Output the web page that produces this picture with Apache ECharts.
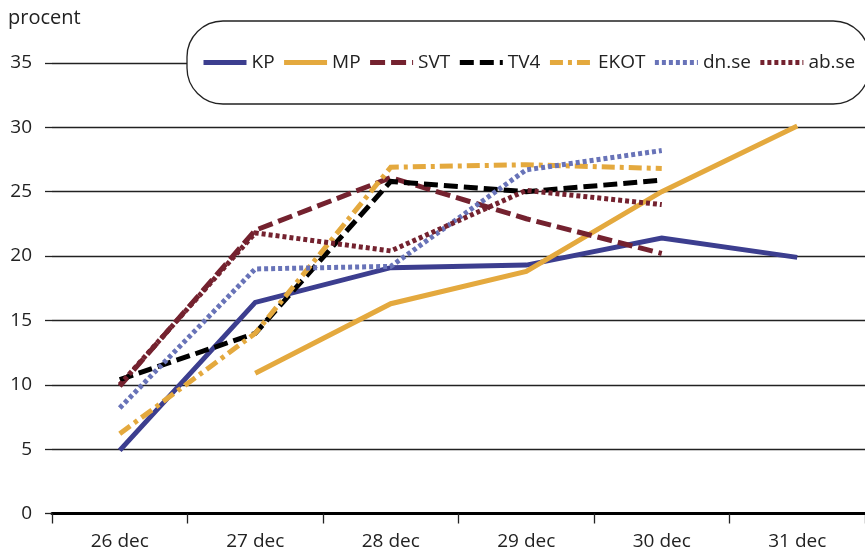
<!DOCTYPE html>
<html>
<head>
<meta charset="utf-8">
<script src="https://cdn.jsdelivr.net/npm/echarts@6/dist/echarts.min.js"></script>
<style>html,body{margin:0;padding:0;background:#fff}#c{width:865px;height:554px}</style>
</head>
<body>
<div id="c"></div>
<script>
const categories = ['26 dec', '27 dec', '28 dec', '29 dec', '30 dec', '31 dec'];
const seriesNames = ['KP', 'MP', 'SVT', 'TV4', 'EKOT', 'dn.se', 'ab.se'];
const kp   = [4.9, 16.4, 19.1, 19.3, 21.4, 19.9];
const mp   = ['-', 10.9, 16.3, 18.8, 25.0, 30.1];
const svt  = [9.9, 22.0, 26.1, 22.9, 20.2, '-'];
const tv4  = [10.4, 14.0, 25.8, 25.0, 25.9, '-'];
const ekot = [6.2, 14.0, 26.9, 27.1, 26.8, '-'];
const dn   = [8.2, 19.0, 19.2, 26.7, 28.2, '-'];
const ab   = [10.0, 21.8, 20.4, 25.1, 24.0, '-'];
const yTicks = [0, 5, 10, 15, 20, 25, 30, 35];

const FONT = 'Open Sans';
const navy = '#3c3e8f', gold = '#e4a93e', wine = '#74222f', blue = '#6873b8';

function line(name, data, color, type) {
  return {
    name, type: 'line', data, symbol: 'none', connectNulls: false,
    lineStyle: { color, width: 5, type, cap: 'butt', join: 'miter' },
    itemStyle: { color },
    emphasis: { disabled: true },
    animation: false
  };
}

const chart = echarts.init(document.getElementById('c'), null, { renderer: 'canvas' });
chart.setOption({
  animation: false,
  graphic: [{
    type: 'text', left: 8, top: 8,
    style: { text: 'procent', font: '20px "' + FONT + '"', fill: '#222' }
  }],
  legend: {
    left: 187, top: 21, width: 700,
    padding: [32, 14, 32, 14],
    borderColor: '#222', borderWidth: 1.3, borderRadius: 36,
    backgroundColor: '#fff',
    itemWidth: 43, itemHeight: 8, itemGap: 7,
    itemStyle: { opacity: 0 },
    lineStyle: { width: 5 },
    textStyle: { fontFamily: FONT, fontSize: 19, color: '#222' },
    data: seriesNames
  },
  grid: { left: 52, right: -6, top: 63, bottom: 40.5, containLabel: false },
  xAxis: {
    type: 'category', data: categories, boundaryGap: true,
    axisLine: { show: true, lineStyle: { color: '#000', width: 3 } },
    axisTick: { show: true, length: 10, lineStyle: { color: '#222', width: 1.3 } },
    axisLabel: { margin: 19, fontFamily: FONT, fontSize: 19, color: '#222' },
    splitLine: { show: false }
  },
  yAxis: {
    type: 'value', min: yTicks[0], max: yTicks[yTicks.length - 1], interval: 5,
    axisLine: { show: false },
    axisTick: { show: true, length: 7, lineStyle: { color: '#222', width: 1.3 } },
    axisLabel: { margin: 20, fontFamily: FONT, fontSize: 19, color: '#222' },
    splitLine: { show: true, lineStyle: { color: '#222', width: 1.3 } }
  },
  series: [
    line('KP', kp, navy, 'solid'),
    line('MP', mp, gold, 'solid'),
    line('SVT', svt, wine, [15, 6]),
    line('TV4', tv4, '#000', [14, 6]),
    line('EKOT', ekot, gold, [13, 5, 4, 5]),
    line('dn.se', dn, blue, [4, 3]),
    line('ab.se', ab, wine, [4, 3])
  ]
});
</script>
</body>
</html>
